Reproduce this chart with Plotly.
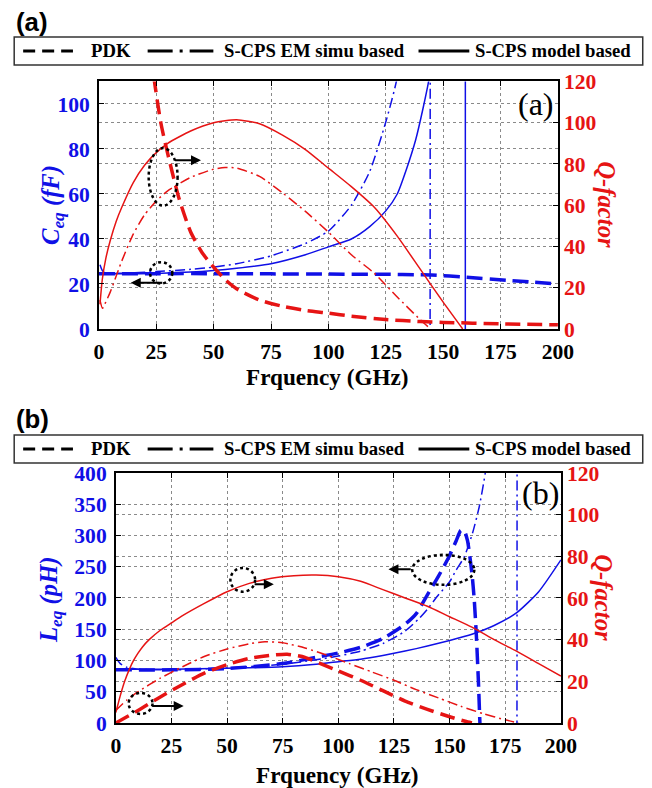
import plotly.graph_objects as go

W, H = 652, 788

# ---------------- Panel (a) data ----------------
f_pdk_c_a = [0, 25, 50, 75, 100, 125, 140, 145, 160, 180, 200]
c_pdk_a = [24.5, 24.6, 24.6, 24.5, 24.4, 24.3, 24.1, 24.0, 23.0, 21.5, 20.0]

f_em_c_a = [0.5, 1.5, 3, 10, 25, 40, 50, 60, 75, 90, 100, 110, 118, 125, 130, 135, 140, 144.9, 145.1, 160, 200]
c_em_a = [28.5, 26, 24.7, 24.8, 25.5, 26.5, 27.5, 29, 32.5, 38, 43.5, 55, 70, 92, 112, 160, 350, 2000, -2000, -300, -100]

f_model_c_a = [0, 10, 25, 40, 50, 60, 75, 90, 100, 110, 118, 125, 130, 134, 138, 141, 144, 150, 155, 159.9, 160.1, 170, 200]
c_model_a = [24.5, 24.5, 24.7, 25.3, 26, 27, 29, 33, 36.5, 40, 45.5, 52.5, 60, 71, 84, 97, 112, 160, 280, 2000, -2000, -300, -100]

f_pdk_q_a = [20, 22, 24, 27, 30, 35, 40, 45, 50, 55, 60, 70, 80, 90, 100, 110, 125, 140, 150, 175, 200]
q_pdk_a = [175, 145, 122, 100, 85, 63, 47, 37, 30, 24, 19.5, 14, 11, 9, 7.7, 6.2, 4.6, 3.6, 3.2, 2.5, 2.0]

f_em_q_a = [0.5, 1.6, 3, 5, 8, 10, 15, 20, 25, 30, 40, 50, 55, 60, 70, 80, 90, 100, 110, 120, 130, 140, 144.5]
q_em_a = [14, 10, 13, 18, 27, 33, 46, 55.5, 62, 67, 73.5, 77.5, 78.3, 78, 74, 66, 57, 47, 36, 27, 15.5, 4.5, 0]

f_model_q_a = [0.5, 1.5, 3, 5, 7.5, 10, 15, 20, 25, 30, 40, 50, 60, 70, 80, 90, 100, 110, 120, 130, 140, 150, 158.5]
q_model_a = [12, 24, 34, 43, 52, 59, 71, 79.5, 85.5, 90, 96, 100, 101.5, 99.5, 94, 87, 78, 69, 59, 45, 29, 13, 0]

# ---------------- Panel (b) data ----------------
f_pdk_l_b = [0, 25, 50, 75, 90, 100, 110, 120, 130, 135, 140, 145, 150, 153, 155, 156.5, 158, 160, 161, 162, 163, 163.6, 165]
l_pdk_b = [85, 85, 87, 95, 105, 112, 121, 135, 158, 175, 205, 235, 268, 292, 308, 308, 292, 240, 200, 140, 60, 0, -100]

f_em_l_b = [0, 2, 5, 10, 25, 50, 75, 90, 100, 110, 120, 130, 136.5, 140, 145, 150, 153, 156.6, 160.3, 163.3, 166, 170, 175, 180.4, 180.6, 190, 200]
l_em_b = [105, 95, 89, 86, 85, 88, 94, 101, 107, 115, 127, 147, 168, 182, 205, 226, 245, 266, 304, 346, 400, 520, 800, 5000, -5000, -500, -300]

f_model_l_b = [0, 25, 50, 75, 90, 100, 110, 120, 130, 140, 150, 160, 170, 180, 190, 200]
l_model_b = [86, 86, 87.5, 90, 94, 98, 102, 108, 115, 123, 132, 142, 156, 176, 210, 261]

f_pdk_q_b = [0, 5, 10, 20, 30, 40, 50, 60, 70, 77, 85, 92, 100, 110, 120, 130, 140, 150, 157, 160]
q_pdk_b = [0, 3, 6, 12.5, 18.5, 24, 28, 31, 32.5, 33, 31.5, 28.5, 25, 20.5, 15.5, 10.5, 6.5, 3, 0.8, 0]

f_em_q_b = [0, 5, 10, 20, 30, 40, 50, 60, 67, 75, 85, 95, 105, 115, 125, 135, 145, 155, 165, 175, 181]
q_em_b = [6, 11, 15, 21.5, 27, 32, 35.5, 38, 39, 38.5, 36, 32.5, 28.5, 24.5, 20.5, 16, 12, 8, 4.5, 1.5, 0]

f_model_q_b = [0, 1, 2, 4, 6, 8, 10, 12, 15, 20, 25, 30, 40, 50, 60, 70, 80, 90, 100, 110, 120, 130, 140, 150, 160, 170, 180, 190, 200]
q_model_b = [5, 9, 13, 20, 25.5, 30, 33.5, 36.5, 40, 44.5, 48, 51.5, 57.5, 63, 67, 69.5, 70.7, 71, 70.2, 68, 64, 60, 56, 51, 46, 40, 34.5, 28.5, 22.5]

# ticks and labels
x_ticks = [0, 25, 50, 75, 100, 125, 150, 175, 200]
c_ticks = [0, 20, 40, 60, 80, 100]
l_ticks = [0, 50, 100, 150, 200, 250, 300, 350, 400]
q_ticks = [0, 20, 40, 60, 80, 100, 120]
legend_labels = ["PDK", "S-CPS EM simu based", "S-CPS model based"]

BLUE = "#1010e6"
RED = "#e61414"
SERIF = "Liberation Serif, Times New Roman, serif"
DASH = "15px,7px"
DASHDOT = "10px,4px,2px,4px"

# page-position helpers (target pixel -> paper coordinate)
SX, OX = 0.9718, 11.8
SY, OY = 0.9696, 19.0
FS = 1 / 0.97


def PX(x):
    return (x - OX) / SX / W


def PY(y):
    return 1 - (y - OY) / SY / H


def fs(s):
    return round(s * FS, 1)


fig = go.Figure()


def add(x, y, xa, ya, color, dash, width):
    fig.add_trace(go.Scatter(x=x, y=y, xaxis=xa, yaxis=ya, mode="lines",
                             line=dict(color=color, dash=dash, width=width, shape="spline", smoothing=0.6),
                             showlegend=False, hoverinfo="skip"))


# panel (a)
add(f_model_q_a, q_model_a, "x", "y2", RED, "solid", 1.5)
add(f_em_q_a, q_em_a, "x", "y2", RED, DASHDOT, 1.5)
add(f_model_c_a, c_model_a, "x", "y", BLUE, "solid", 1.5)
add(f_em_c_a, c_em_a, "x", "y", BLUE, DASHDOT, 1.5)
add(f_pdk_c_a, c_pdk_a, "x", "y", BLUE, "16px,7px", 3.5)
add(f_pdk_q_a, q_pdk_a, "x", "y2", RED, DASH, 3.5)

# panel (b)
add(f_model_q_b, q_model_b, "x2", "y4", RED, "solid", 1.5)
add(f_em_q_b, q_em_b, "x2", "y4", RED, DASHDOT, 1.5)
add(f_pdk_q_b, q_pdk_b, "x2", "y4", RED, DASH, 3.5)
add(f_model_l_b, l_model_b, "x2", "y3", BLUE, "solid", 1.5)
add(f_em_l_b, l_em_b, "x2", "y3", BLUE, DASHDOT, 1.5)
add(f_pdk_l_b, l_pdk_b, "x2", "y3", BLUE, "16px,7px", 3.5)

tickfont_x = dict(family=SERIF, size=fs(21), color="black", weight="bold")
tickfont_b = dict(family=SERIF, size=fs(21), color=BLUE, weight="bold")
tickfont_r = dict(family=SERIF, size=fs(21), color=RED, weight="bold")
grid = dict(showgrid=True, gridcolor="#8a8a8a", griddash="dot", gridwidth=1,
            showline=True, linecolor="black", linewidth=1.5,
            ticks="inside", ticklen=5, tickcolor="black", zeroline=False)

fig.update_layout(
    width=W, height=H, margin=dict(l=0, r=0, t=0, b=0),
    paper_bgcolor="white", plot_bgcolor="white", showlegend=False,
    xaxis=dict(domain=[PX(98), PX(559)], anchor="y", range=[0, 200], tickvals=x_ticks,
               tickfont=tickfont_x, mirror="ticks", ticklabelstandoff=2, **grid),
    yaxis=dict(domain=[PY(329), PY(81.5)], anchor="x", range=[0, 110], tickvals=c_ticks,
               tickfont=tickfont_b, mirror=True, ticklabelstandoff=3, **grid),
    yaxis2=dict(overlaying="y", side="right", anchor="x", range=[0, 120], tickvals=q_ticks,
                tickfont=tickfont_r, ticklabelstandoff=0, **grid),
    xaxis2=dict(domain=[PX(115), PX(562)], anchor="y3", range=[0, 200], tickvals=x_ticks,
                tickfont=tickfont_x, mirror="ticks", ticklabelstandoff=2, **grid),
    yaxis3=dict(domain=[PY(723), PY(473)], anchor="x2", range=[0, 400], tickvals=l_ticks,
                tickfont=tickfont_b, mirror=True, ticklabelstandoff=3, **grid),
    yaxis4=dict(overlaying="y3", side="right", anchor="x2", range=[0, 120], tickvals=q_ticks,
                tickfont=tickfont_r, ticklabelstandoff=0, **grid),
)

shapes = []
annotations = []


# dotted ellipses (in data coordinates of the left axes)
def ellipse(xref, yref, x0, x1, y0, y1):
    shapes.append(dict(type="circle", xref=xref, yref=yref, x0=x0, x1=x1, y0=y0, y1=y1,
                       line=dict(color="black", width=2.5, dash="dot")))


def arrow(xref, yref, xt, xh, y):
    annotations.append(dict(x=xh, y=y, ax=xt, ay=y, xref=xref, yref=yref, axref=xref, ayref=yref,
                            text="", showarrow=True, arrowhead=2, arrowsize=1, arrowwidth=2,
                            arrowcolor="black"))


ellipse("x", "y", 21.7, 34.3, 54.8, 80.4)
arrow("x", "y", 32.5, 44.5, 75)
ellipse("x", "y", 22.3, 32.0, 20.2, 29.7)
arrow("x", "y", 28.3, 13.9, 20.5)

ellipse("x2", "y3", 51.5, 62.6, 210, 248)
arrow("x2", "y3", 61.7, 71, 222)
ellipse("x2", "y3", 5.8, 16.5, 14.4, 48)
arrow("x2", "y3", 15.7, 30.5, 27)
ellipse("x2", "y3", 133.2, 161.1, 221, 269)
arrow("x2", "y3", 133.2, 122.5, 246)


def text(txt, xpx, ypx, color, size, angle=0, family=SERIF, xanchor="center"):
    annotations.append(dict(x=PX(xpx), y=PY(ypx), xref="paper", yref="paper", text=txt,
                            textangle=angle, showarrow=False, xanchor=xanchor, yanchor="middle",
                            font=dict(family=family, size=fs(size), color=color)))


# axis titles
text("<b><i>C<sub>eq</sub> (fF)</i></b>", 52, 205, BLUE, 24, -90)
text("<b><i>Q-factor</i></b>", 607, 205, RED, 24, 90)
text("<b><i>L<sub>eq</sub> (pH)</i></b>", 50, 600, BLUE, 24, -90)
text("<b><i>Q-factor</i></b>", 604, 598, RED, 24, 90)
text("<b>Frquency (GHz)</b>", 328, 377, "black", 22.5)
text("<b>Frquency (GHz)</b>", 338, 775.5, "black", 22.5)

# in-plot panel marks
text("(a)", 537, 104, "black", 31)
text("(b)", 541, 493, "black", 31)

# panel letters
text("<b>(a)</b>", 13, 22, "black", 25, family="Liberation Sans, Arial, sans-serif", xanchor="left")
text("<b>(b)</b>", 13, 419, "black", 25, family="Liberation Sans, Arial, sans-serif", xanchor="left")

# legend boxes
line_x = [(22, 72), (147, 213), (419, 470)]
text_x = [88, 222, 474]
dashes = ["12px,7px", "25px,7px,3px,7px", "solid"]
for top, bottom, right in [(37, 65, 645), (435, 463, 647)]:
    shapes.append(dict(type="rect", xref="paper", yref="paper", x0=PX(13), x1=min(PX(right), 0.998),
                       y0=PY(bottom), y1=PY(top), line=dict(color="#333333", width=1.5),
                       fillcolor="white", layer="below"))
    yc = (top + bottom) / 2
    for (x0, x1), tx, d, lab in zip(line_x, text_x, dashes, legend_labels):
        shapes.append(dict(type="line", xref="paper", yref="paper", x0=PX(x0), x1=PX(x1),
                           y0=PY(yc), y1=PY(yc), line=dict(color="black", width=3, dash=d)))
        text("<b>" + lab + "</b>", tx, yc, "black", 18.1, xanchor="left")

fig.update_layout(shapes=shapes, annotations=annotations)
fig.write_html("out.html")
